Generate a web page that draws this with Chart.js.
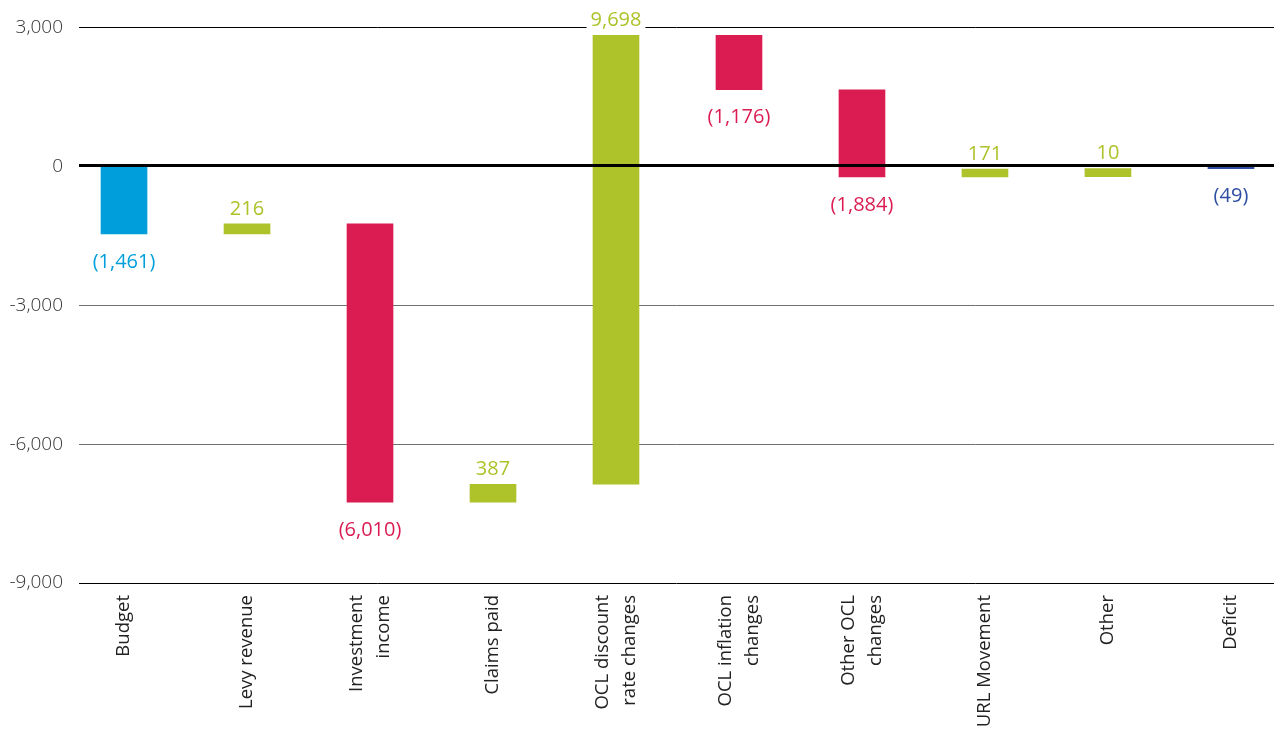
<!DOCTYPE html>
<html>
<head>
<meta charset="utf-8">
<script src="https://cdn.jsdelivr.net/npm/chart.js@4/dist/chart.umd.min.js"></script>
<style>
  html, body { margin: 0; padding: 0; background: #ffffff; }
  #wrap { width: 1274px; height: 731px; }
</style>
</head>
<body>
<div id="wrap"><canvas id="c" width="1274" height="731"></canvas></div>
<script>
// ---- data ----
const categories = ['Budget', 'Levy revenue', ['Investment', 'income'], 'Claims paid',
  ['OCL discount', 'rate changes'], ['OCL inflation', 'changes'], ['Other OCL', 'changes'],
  'URL Movement', 'Other', 'Deficit'];
// first and last entries are totals, the rest are movements
const changes = [-1461, 216, -6010, 387, 9698, -1176, -1884, 171, 10, -49];
const kinds = ['total', 'move', 'move', 'move', 'move', 'move', 'move', 'move', 'move', 'result'];
const yTicks = [3000, 0, -3000, -6000, -9000];

// ---- styles ----
const BLUE = '#009fdb', GREEN = '#aec22a', RED = '#da1c52', NAVY = '#2d4ea2';
const FONT = "'Open Sans', 'Noto Sans', sans-serif";

// build floating ranges
let running = 0;
const ranges = [], colors = [];
changes.forEach((v, i) => {
  if (kinds[i] === 'total') {
    ranges.push([0, v]); running = v; colors.push(BLUE);
  } else if (kinds[i] === 'result') {
    ranges.push([0, v]); colors.push(NAVY);
  } else {
    const end = running + v;
    ranges.push([end, running]);
    running = end;
    colors.push(v >= 0 ? GREEN : RED);
  }
});

const moveData = [], resultData = [], moveColors = [], resultColors = [];
ranges.forEach((r, i) => {
  if (kinds[i] === 'result') { resultData.push({x: i, y: r}); resultColors.push(colors[i]); }
  else { moveData.push({x: i, y: r}); moveColors.push(colors[i]); }
});

const fmt = v => {
  const s = Math.abs(v).toLocaleString('en-US');
  return v < 0 ? '(' + s + ')' : s;
};

const labelPlugin = {
  id: 'valueLabels',
  afterDatasetsDraw(chart) {
    const ctx = chart.ctx;
    ctx.save();
    ctx.font = '20px ' + FONT;
    ctx.textAlign = 'center';
    ctx.textBaseline = 'middle';
    chart.data.datasets.forEach((ds, di) => {
      const meta = chart.getDatasetMeta(di);
      meta.data.forEach((el, j) => {
        const i = ds.data[j].x;
        const v = changes[i];
        const top = Math.min(el.y, el.base), bottom = Math.max(el.y, el.base);
        const txt = fmt(v);
        const y = v >= 0 ? top - 15 : bottom + 28;
        const w = ctx.measureText(txt).width;
        ctx.fillStyle = '#ffffff';
        ctx.fillRect(el.x - w / 2 - 4, y - 8, w + 8, 16);
        ctx.fillStyle = colors[i];
        ctx.fillText(txt, el.x, y);
      });
    });
    // zero line on top of bars
    const ys = chart.scales.y, area = chart.chartArea;
    const zy = Math.round(ys.getPixelForValue(0)) - 0.5;
    ctx.strokeStyle = '#000000';
    ctx.lineWidth = 3;
    ctx.beginPath();
    ctx.moveTo(area.left, zy);
    ctx.lineTo(area.right, zy);
    ctx.stroke();

    // category labels, rotated, lines centred on the category
    const xs = chart.scales.x;
    const lh = 27;
    ctx.font = '18.5px ' + FONT;
    ctx.fillStyle = '#222222';
    ctx.textAlign = 'right';
    ctx.textBaseline = 'middle';
    categories.forEach((c, i) => {
      const lines = Array.isArray(c) ? c : [c];
      const px = xs.getPixelForValue(i);
      ctx.save();
      ctx.translate(px, area.bottom + 12);
      ctx.rotate(-Math.PI / 2);
      lines.forEach((ln, k) => {
        ctx.fillText(ln, 0, (k - (lines.length - 1) / 2) * lh);
      });
      ctx.restore();
    });
    ctx.restore();
  }
};

new Chart(document.getElementById('c'), {
  type: 'bar',
  data: {
    datasets: [
      { data: moveData, backgroundColor: moveColors, minBarLength: 8, grouped: false, barThickness: 46 },
      { data: resultData, backgroundColor: resultColors, grouped: false, barThickness: 46 }
    ]
  },
  options: {
    responsive: false,
    animation: false,
    devicePixelRatio: 1,
    layout: { padding: { top: 21, right: 0, left: 0, bottom: 0 } },
    plugins: { legend: { display: false }, tooltip: { enabled: false } },
    scales: {
      x: {
        type: 'linear',
        offset: false,
        min: -0.366,
        max: 9.35,
        grid: { display: false, drawTicks: false },
        border: { display: false },
        afterFit: s => { s.height = 148; },
        ticks: { display: false }
      },
      y: {
        min: -9000,
        max: 3000,
        afterFit: s => { s.width = 79; },
        afterBuildTicks: axis => { axis.ticks = yTicks.map(v => ({ value: v })); },
        border: { display: false },
        grid: {
          drawTicks: false,
          color: c => (c.tick && (c.tick.value === -3000 || c.tick.value === -6000)) ? '#707070' : '#000000',
          lineWidth: c => (c.tick && c.tick.value === 0) ? 0 : 1
        },
        ticks: {
          padding: 16,
          color: '#333333',
          font: { family: FONT, size: 19, weight: 300 },
          callback: v => v.toLocaleString('en-US')
        }
      }
    }
  },
  plugins: [labelPlugin]
});
</script>
</body>
</html>
